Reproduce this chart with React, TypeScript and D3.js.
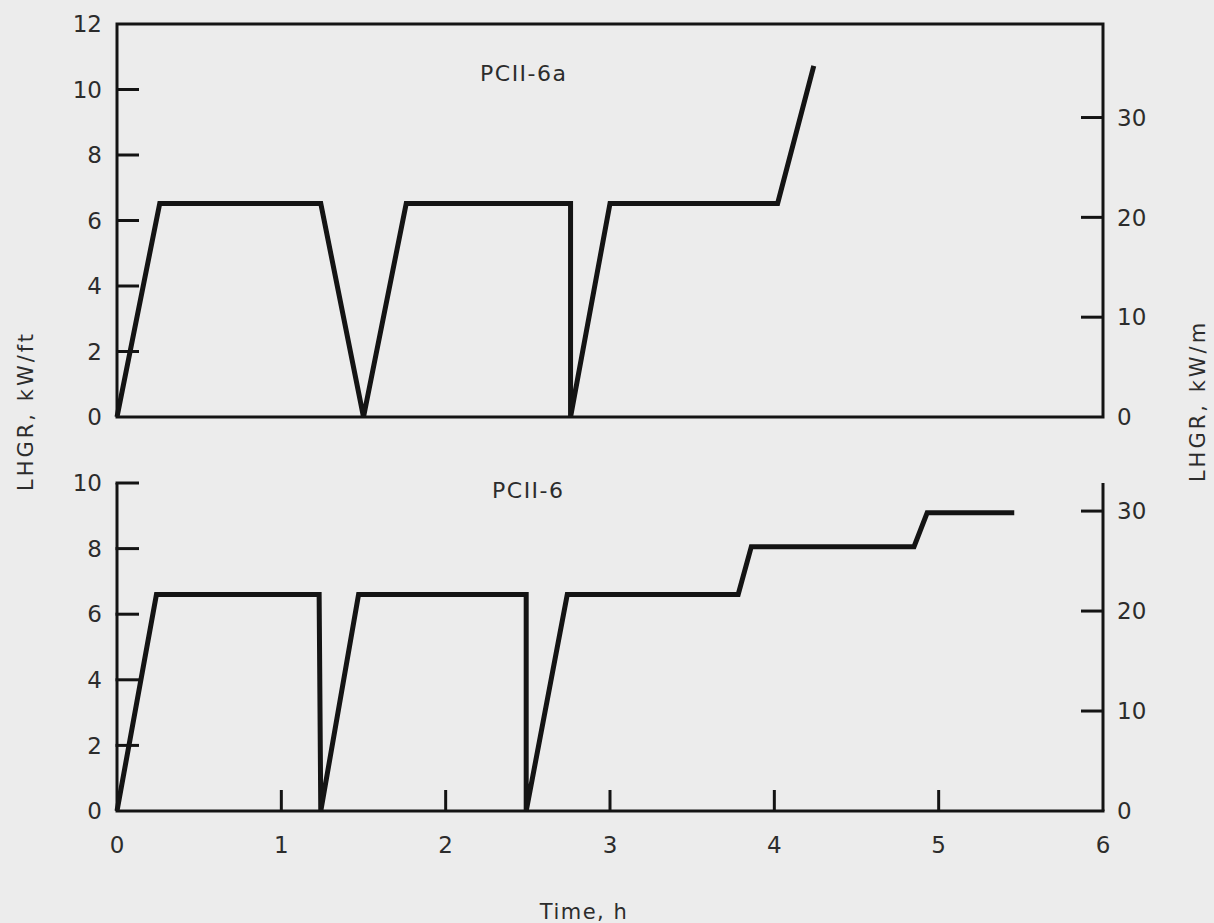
import React from "react";
import * as d3 from "d3";

// ---- data ----
const topTime = [0, 0.26, 1.24, 1.5, 1.76, 2.76, 2.76, 3.0, 4.02, 4.24];
const topLHGR = [0, 6.52, 6.52, 0, 6.52, 6.52, 0, 6.52, 6.52, 10.72];

const botTime = [0, 0.24, 1.23, 1.24, 1.47, 2.49, 2.49, 2.74, 3.78, 3.86, 4.85, 4.93, 5.46];
const botLHGR = [0, 6.6, 6.6, 0, 6.6, 6.6, 0, 6.6, 6.6, 8.06, 8.06, 9.09, 9.09];

const xTicks = [0, 1, 2, 3, 4, 5, 6];
const topLeftTicks = [0, 2, 4, 6, 8, 10, 12];
const botLeftTicks = [0, 2, 4, 6, 8, 10];
const rightTicks = [0, 10, 20, 30];
const KWM_PER_KWFT = 3.2808;

const topTitle = "PCII-6a";
const botTitle = "PCII-6";
const leftLabel = "LHGR, kW/ft";
const rightLabel = "LHGR, kW/m";
const xLabel = "Time, h";

const W = 1214;
const H = 923;
const X0 = 117;
const X1 = 1103;
const FONT = "'DejaVu Sans', sans-serif";
const TEXT = "#2c2c2c";
const INK = "#141414";

export default function App() {
  const x = d3.scaleLinear().domain([0, 6]).range([X0, X1]);
  const yTop = d3.scaleLinear().domain([0, 12]).range([417, 24]);
  const yBot = d3.scaleLinear().domain([0, 10]).range([811, 483]);
  const yTopM = d3.scaleLinear().domain([0, 12 * KWM_PER_KWFT]).range([417, 24]);
  const yBotM = d3.scaleLinear().domain([0, 10 * KWM_PER_KWFT]).range([811, 483]);

  const line = (ys: d3.ScaleLinear<number, number>) =>
    d3
      .line<[number, number]>()
      .x((d) => x(d[0]))
      .y((d) => ys(d[1]));

  const topPts = topTime.map((t, i) => [t, topLHGR[i]] as [number, number]);
  const botPts = botTime.map((t, i) => [t, botLHGR[i]] as [number, number]);

  const tickLen = 22;
  const axisW = 3;
  const tickFont = 23;

  return (
    <svg
      width={W}
      height={H}
      style={{ position: "absolute", left: 0, top: 0, background: "#ececec" }}
    >
      <rect x={0} y={0} width={W} height={H} fill="#ececec" />

      {/* ---------- top panel ---------- */}
      <rect
        x={x(0)}
        y={yTop(12)}
        width={x(6) - x(0)}
        height={yTop(0) - yTop(12)}
        fill="none"
        stroke={INK}
        strokeWidth={axisW}
      />
      {topLeftTicks.map((t) => (
        <g key={"tl" + t}>
          {t > 0 && t < 12 && (
            <line x1={x(0)} x2={x(0) + tickLen} y1={yTop(t)} y2={yTop(t)} stroke={INK} strokeWidth={axisW} />
          )}
          <text x={102} y={yTop(t)} dy="0.36em" textAnchor="end" fontFamily={FONT} fontSize={tickFont} fill={TEXT}>
            {t}
          </text>
        </g>
      ))}
      {rightTicks.map((t) => (
        <g key={"tr" + t}>
          {t > 0 && (
            <line x1={x(6)} x2={x(6) - tickLen} y1={yTopM(t)} y2={yTopM(t)} stroke={INK} strokeWidth={axisW} />
          )}
          <text x={1117} y={yTopM(t)} dy="0.36em" textAnchor="start" fontFamily={FONT} fontSize={tickFont} fill={TEXT}>
            {t}
          </text>
        </g>
      ))}
      <path
        d={line(yTop)(topPts) || ""}
        fill="none"
        stroke={INK}
        strokeWidth={5}
        strokeLinejoin="miter"
        strokeMiterlimit={3}
      />
      <text x={480} y={81} fontFamily={FONT} fontSize={22} letterSpacing={1.5} fill={TEXT}>
        {topTitle}
      </text>

      {/* ---------- bottom panel ---------- */}
      <line x1={x(0)} x2={x(0)} y1={yBot(10)} y2={yBot(0)} stroke={INK} strokeWidth={axisW} />
      <line x1={x(6)} x2={x(6)} y1={yBot(10)} y2={yBot(0)} stroke={INK} strokeWidth={axisW} />
      <line
        x1={x(0) - axisW / 2}
        x2={x(6) + axisW / 2}
        y1={yBot(0)}
        y2={yBot(0)}
        stroke={INK}
        strokeWidth={axisW}
      />
      {botLeftTicks.map((t) => (
        <g key={"bl" + t}>
          {t > 0 && (
            <line
              x1={x(0) - axisW / 2}
              x2={x(0) + tickLen}
              y1={yBot(t)}
              y2={yBot(t)}
              stroke={INK}
              strokeWidth={axisW}
            />
          )}
          <text x={102} y={yBot(t)} dy="0.36em" textAnchor="end" fontFamily={FONT} fontSize={tickFont} fill={TEXT}>
            {t}
          </text>
        </g>
      ))}
      {rightTicks.map((t) => (
        <g key={"br" + t}>
          {t > 0 && (
            <line x1={x(6)} x2={x(6) - tickLen} y1={yBotM(t)} y2={yBotM(t)} stroke={INK} strokeWidth={axisW} />
          )}
          <text x={1117} y={yBotM(t)} dy="0.36em" textAnchor="start" fontFamily={FONT} fontSize={tickFont} fill={TEXT}>
            {t}
          </text>
        </g>
      ))}
      {xTicks.map((t) => (
        <g key={"bx" + t}>
          {t > 0 && t < 6 && (
            <line x1={x(t)} x2={x(t)} y1={yBot(0)} y2={yBot(0) - 21} stroke={INK} strokeWidth={axisW} />
          )}
          <text x={x(t)} y={853} textAnchor="middle" fontFamily={FONT} fontSize={tickFont} fill={TEXT}>
            {t}
          </text>
        </g>
      ))}
      <path
        d={line(yBot)(botPts) || ""}
        fill="none"
        stroke={INK}
        strokeWidth={5}
        strokeLinejoin="miter"
        strokeMiterlimit={3}
      />
      <text x={492} y={498} fontFamily={FONT} fontSize={22} letterSpacing={1.5} fill={TEXT}>
        {botTitle}
      </text>

      {/* ---------- axis labels ---------- */}
      <text
        transform={`translate(33, 411) rotate(-90)`}
        textAnchor="middle"
        fontFamily={FONT}
        fontSize={21}
        letterSpacing={3}
        fill={TEXT}
      >
        {leftLabel}
      </text>
      <text
        transform={`translate(1205, 401) rotate(-90)`}
        textAnchor="middle"
        fontFamily={FONT}
        fontSize={21}
        letterSpacing={3}
        fill={TEXT}
      >
        {rightLabel}
      </text>
      <text x={584} y={919} textAnchor="middle" fontFamily={FONT} fontSize={21} letterSpacing={1.5} fill={TEXT}>
        {xLabel}
      </text>
    </svg>
  );
}
